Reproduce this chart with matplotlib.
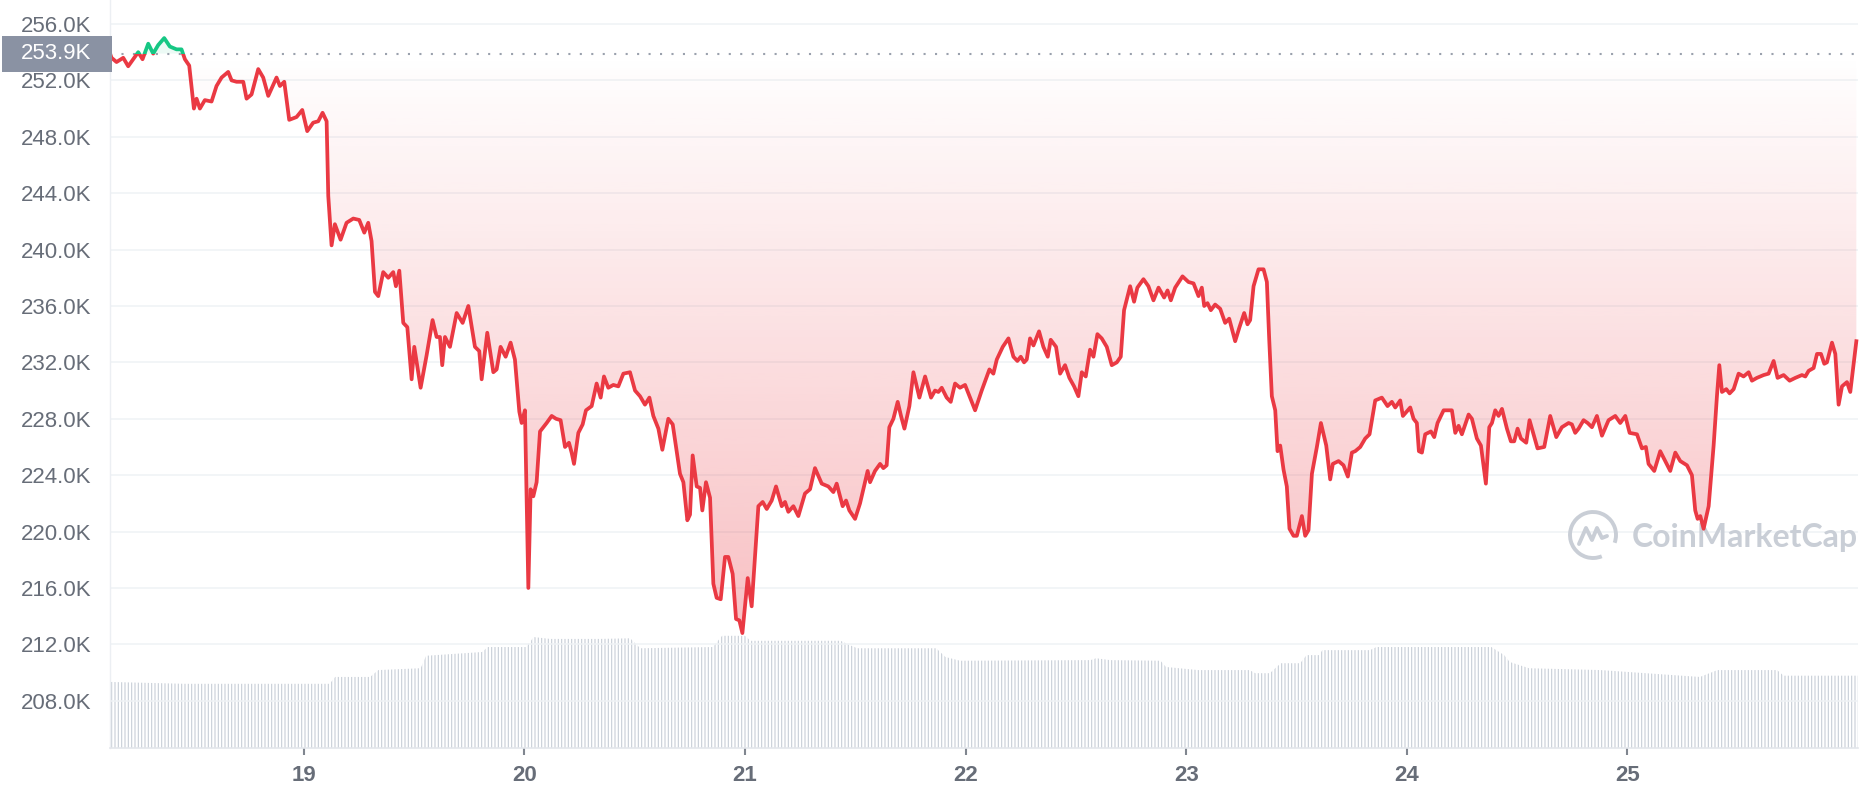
import numpy as np
import matplotlib.pyplot as plt
import matplotlib.transforms as mtransforms
from matplotlib.patches import Rectangle, Arc
from matplotlib.path import Path
from matplotlib.colors import to_rgb

# price in thousands, time in hours from the 18th 00:00
hours = [2.9, 3.07, 3.61, 4.34, 4.88, 5.42, 5.97, 6.44, 7.06, 7.60, 8.14, 8.80, 9.41, 10.14, 10.68,
         11.05, 11.52, 12.03, 12.32, 12.68, 13.22, 13.95, 14.49, 15.04, 15.76, 16.13, 16.67, 17.40,
         17.76, 18.30, 19.03, 19.57, 20.12, 21.02, 21.39, 21.86, 22.40, 23.20, 23.82, 24.36, 25.01,
         25.56, 26.03, 26.47, 26.65, 27.01, 27.37, 27.99, 28.64, 29.37, 30.02, 30.57, 31.00, 31.36,
         31.73, 32.09, 32.63, 33.18, 33.72, 34.01, 34.38, 34.81, 35.25, 35.72, 36.01, 36.70, 37.35,
         38.00, 38.44, 38.80, 39.05, 39.35, 39.89, 40.62, 41.27, 41.89, 42.61, 43.08, 43.34, 43.95,
         44.61, 44.97, 45.40, 45.95, 46.49, 46.96, 47.44, 47.69, 48.05, 48.42, 48.67, 48.96, 49.32,
         49.69, 50.41, 50.96, 51.43, 51.93, 52.41, 52.84, 53.13, 53.39, 53.86, 54.33, 54.69, 55.31,
         55.85, 56.29, 56.65, 57.12, 57.67, 58.21, 58.76, 59.48, 60.03, 60.57, 61.11, 61.59, 62.02,
         62.57, 63.00, 63.65, 64.13, 64.92, 65.29, 65.72, 66.01, 66.30, 66.74, 67.10, 67.35, 67.75,
         68.19, 68.55, 68.91, 69.35, 69.82, 70.18, 70.65, 71.02, 71.38, 71.71, 72.29, 72.72, 73.45,
         73.92, 74.36, 74.90, 75.37, 75.99, 76.35, 76.71, 77.26, 77.80, 78.52, 79.07, 79.61, 80.34,
         81.06, 81.61, 81.97, 82.62, 82.99, 83.35, 83.97, 84.51, 85.34, 85.60, 86.14, 86.69, 87.05,
         87.41, 87.70, 88.14, 88.61, 88.97, 89.34, 89.88, 90.32, 90.97, 91.59, 92.24, 92.67, 93.04,
         93.40, 93.94, 94.38, 94.85, 95.39, 95.94, 96.48, 97.03, 97.75, 98.59, 99.02, 99.39, 100.04,
         100.66, 101.20, 101.63, 102.00, 102.36, 102.65, 103.01, 103.38, 103.99, 104.46, 104.94,
         105.26, 105.84, 106.28, 106.82, 107.29, 107.80, 108.27, 108.64, 109.07, 109.54, 109.91,
         110.34, 110.81, 111.36, 111.90, 112.45, 112.88, 113.24, 113.90, 114.33, 114.69, 115.35,
         115.89, 116.44, 116.99, 117.60, 117.97, 118.33, 118.80, 119.60, 120.25, 120.80, 121.34,
         121.70, 121.96, 122.32, 122.68, 123.15, 123.70, 124.24, 124.68, 125.33, 125.80, 126.31,
         126.67, 126.96, 127.33, 127.87, 128.42, 128.78, 129.03, 129.32, 129.69, 129.94, 130.23,
         130.59, 130.95, 131.24, 131.68, 132.04, 132.59, 132.95, 133.31, 133.68, 134.22, 134.66,
         135.24, 135.67, 135.96, 136.58, 137.12, 137.59, 138.03, 138.39, 138.94, 139.48, 139.95,
         140.57, 141.29, 141.91, 142.38, 142.75, 143.29, 143.58, 144.38, 144.74, 145.10, 145.32,
         145.65, 146.01, 146.63, 146.99, 147.35, 148.01, 148.91, 149.28, 149.64, 150.00, 150.73,
         151.09, 151.63, 152.07, 152.61, 152.98, 153.27, 153.63, 153.99, 154.36, 154.90, 155.33,
         155.69, 156.06, 156.42, 157.00, 157.36, 157.80, 158.23, 158.96, 159.61, 160.27, 160.88,
         161.61, 161.97, 162.33, 162.70, 163.24, 163.68, 164.15, 164.69, 165.24, 165.96, 166.69,
         167.23, 167.78, 168.25, 169.05, 169.59, 170.02, 170.31, 170.93, 171.58, 172.13, 172.67,
         173.22, 173.76, 174.49, 175.03, 175.39, 175.65, 175.94, 176.30, 176.85, 177.39, 177.75,
         178.01, 178.30, 178.77, 179.13, 179.57, 180.11, 180.65, 181.20, 181.56, 182.10, 182.83,
         183.37, 183.92, 184.35, 185.01, 185.66, 186.28, 187.00, 187.37, 187.73, 188.27, 188.64,
         189.07, 189.43, 189.72, 190.27, 190.63, 190.99, 191.36, 191.90, 192.26, 192.92]
price_k = [253.9, 253.6, 253.3, 253.6, 253.0, 253.5, 254.0, 253.5, 254.6, 253.9, 254.5, 255.0, 254.4,
           254.2, 254.2, 253.5, 253.05, 250.0, 250.7, 250.0, 250.6, 250.5, 251.6, 252.2, 252.6,
           252.0, 251.9, 251.9, 250.7, 251.0, 252.8, 252.2, 250.9, 252.2, 251.6, 251.9, 249.2,
           249.4, 249.9, 248.4, 249.0, 249.1, 249.7, 249.1, 243.8, 240.3, 241.8, 240.7, 241.9,
           242.2, 242.1, 241.2, 241.9, 240.6, 237.0, 236.7, 238.4, 238.0, 238.4, 237.4, 238.5,
           234.8, 234.5, 230.8, 233.1, 230.2, 232.5, 235.0, 233.8, 233.8, 231.8, 233.8, 233.1,
           235.5, 234.8, 236.0, 233.1, 232.8, 230.8, 234.1, 231.3, 231.5, 233.1, 232.4, 233.4,
           232.2, 228.5, 227.7, 228.6, 216.0, 223.0, 222.5, 223.5, 227.1, 227.7, 228.2, 228.0,
           227.9, 226.0, 226.3, 225.6, 224.8, 227.0, 227.6, 228.6, 228.9, 230.5, 229.5, 231.0,
           230.2, 230.4, 230.3, 231.2, 231.3, 230.0, 229.6, 229.0, 229.5, 228.2, 227.3, 225.8,
           228.0, 227.6, 224.1, 223.5, 220.8, 221.2, 225.4, 223.2, 223.1, 221.5, 223.5, 222.4,
           216.3, 215.3, 215.2, 218.2, 218.2, 217.0, 213.8, 213.7, 212.8, 216.7, 214.7, 221.8,
           222.1, 221.6, 222.2, 223.2, 221.8, 222.1, 221.4, 221.8, 221.1, 222.7, 223.0, 224.5,
           223.4, 223.2, 222.8, 223.4, 221.8, 222.2, 221.5, 220.9, 222.0, 224.3, 223.5, 224.3,
           224.8, 224.5, 224.7, 227.4, 228.0, 229.2, 228.2, 227.3, 228.9, 231.3, 229.5, 231.0,
           229.5, 230.0, 229.9, 230.2, 229.5, 229.2, 230.5, 230.2, 230.4, 229.5, 228.6, 230.0,
           231.5, 231.2, 232.2, 233.1, 233.7, 232.4, 232.1, 232.4, 232.0, 232.2, 233.7, 233.2,
           234.2, 233.1, 232.4, 233.6, 233.1, 231.2, 231.8, 230.9, 230.3, 229.6, 231.3, 231.0,
           232.9, 232.4, 234.0, 233.7, 233.1, 231.8, 232.0, 232.4, 235.7, 237.4, 236.3, 237.3,
           237.9, 237.4, 236.4, 237.3, 236.6, 237.1, 236.4, 237.3, 238.1, 237.7, 237.6, 236.7,
           237.3, 236.0, 236.2, 235.7, 236.1, 235.8, 234.8, 235.1, 233.5, 234.5, 235.5, 234.7,
           235.0, 237.4, 238.6, 238.6, 237.7, 233.7, 229.6, 228.6, 225.7, 226.1, 224.4, 223.2,
           220.2, 219.7, 219.7, 221.1, 219.7, 220.1, 224.1, 226.0, 227.7, 226.1, 223.7, 224.8,
           225.0, 224.7, 223.9, 225.6, 225.7, 226.0, 226.6, 226.9, 229.3, 229.5, 228.9, 229.2,
           228.8, 229.3, 228.2, 228.8, 228.0, 227.7, 225.7, 225.6, 226.9, 227.1, 226.7, 227.7,
           228.6, 228.6, 227.0, 227.5, 226.9, 228.3, 228.0, 226.6, 226.1, 223.4, 227.4, 227.7,
           228.6, 228.2, 228.7, 227.3, 226.4, 226.4, 227.3, 226.6, 226.3, 227.9, 226.9, 225.9,
           226.0, 228.2, 226.7, 227.4, 227.7, 227.6, 227.0, 227.3, 227.9, 227.7, 227.4, 228.2,
           226.8, 227.9, 228.2, 227.7, 228.2, 227.0, 226.9, 225.9, 226.0, 224.8, 224.3, 225.7,
           225.0, 224.3, 225.6, 225.0, 224.7, 224.0, 221.5, 220.9, 221.1, 220.2, 221.8, 226.1,
           229.6, 231.8, 229.9, 230.1, 229.8, 230.1, 231.2, 231.0, 231.3, 230.7, 230.9, 231.1,
           231.2, 232.1, 230.9, 231.1, 230.7, 230.9, 231.1, 231.0, 231.4, 231.6, 232.6, 232.6,
           231.9, 232.0, 233.4, 232.6, 229.0, 230.3, 230.6, 229.9, 233.5]
open_price_k = 253.9

# rolling volume (arbitrary units)
vol_hours = [2.9, 11.0, 26.8, 27.4, 31.2, 32.1, 36.7, 37.3, 43.4, 44.0, 48.2, 49.0, 50.8, 56.2,
             59.5, 60.6, 68.5, 69.5, 72.0, 72.6, 82.4, 83.4, 84.2, 92.8, 93.8, 95.4, 109.6, 110.2,
             111.7, 117.2, 117.8, 121.3, 126.9, 127.5, 129.1, 130.3, 132.4, 133.1, 134.5, 134.8,
             140.0, 140.7, 153.2, 154.6, 155.2, 157.3, 165.1, 175.9, 177.8, 184.3, 185.0, 193.1]
vol = [10.6, 10.3, 10.3, 11.4, 11.4, 12.5, 12.8, 14.8, 15.4, 16.2, 16.2, 17.8, 17.5, 17.5, 17.6,
       16.0, 16.2, 18.0, 18.0, 17.2, 17.2, 16.5, 16.0, 16.0, 14.6, 14.0, 14.1, 14.4, 14.1, 14.0,
       13.0, 12.5, 12.5, 12.0, 12.0, 13.6, 13.6, 14.9, 14.9, 15.7, 15.7, 16.2, 16.2, 14.9, 13.8,
       12.8, 12.5, 11.4, 12.5, 12.5, 11.6, 11.6]

day_ticks = [24, 48, 72, 96, 120, 144, 168]
day_labels = ['19', '20', '21', '22', '23', '24', '25']
y_ticks = [208, 212, 216, 220, 224, 228, 232, 236, 240, 244, 248, 252, 256]

RED = '#ea3943'
GREEN = '#16c784'
LABEL = '#676d78'

plt.rcParams['font.family'] = ['Liberation Sans', 'DejaVu Sans']
plt.rcParams['hatch.linewidth'] = 0.8
plt.rcParams['hatch.color'] = '#c8ced7'

W, H = 1860, 800
fig = plt.figure(figsize=(18.6, 8), dpi=100)
rect = [110 / W, 52 / H, 1748 / W, 748 / H]
ax_vol = fig.add_axes(rect)
ax = fig.add_axes(rect, sharex=ax_vol)
ax.patch.set_visible(False)

# volume bars
ax_vol.fill_between(vol_hours, 0, vol, facecolor='none', edgecolor='#c8ced7',
                    hatch='|||||', linewidth=0)
ax_vol.set_ylim(0, 120)
ax_vol.axis('off')

h = np.array(hours)
p = np.array(price_k)

# gradient fill between open price and the line
below = ax.fill_between(h, p, open_price_k, where=p <= open_price_k, interpolate=True,
                        facecolor='none', edgecolor='none')
n = 256
grad = np.zeros((n, 1, 4))
grad[:, 0, :3] = to_rgb(RED)
grad[:, 0, 3] = np.linspace(0.32, 0.0, n)
im = ax.imshow(grad, extent=[h[0], h[-1], p.min(), open_price_k], origin='lower',
               aspect='auto', interpolation='bilinear', zorder=1)
im.set_clip_path(Path.make_compound_path(*below.get_paths()), ax.transData)

ax.fill_between(h, p, open_price_k, where=p >= open_price_k, interpolate=True,
                facecolor=GREEN, alpha=0.08, edgecolor='none', zorder=1)

# line: green above the open price, red below
line_r, = ax.plot(h, p, color=RED, lw=2.7, zorder=4, solid_joinstyle='round')
line_r.set_clip_path(Rectangle((h[0] - 5, 150), 300, open_price_k - 150,
                               transform=ax.transData))
line_g, = ax.plot(h, p, color=GREEN, lw=2.7, zorder=4, solid_joinstyle='round')
line_g.set_clip_path(Rectangle((h[0] - 5, open_price_k), 300, 100,
                               transform=ax.transData))

ax.axhline(open_price_k, color='#9aa1ad', lw=1.5, ls=(0, (1, 4.5)), zorder=2)

ax.set_xlim(2.9, 193.1)
ax.set_ylim(204.65, 257.7)

ax.set_yticks(y_ticks)
ax.set_yticklabels([f'{v:.1f}K' for v in y_ticks])
ax.yaxis.grid(True, color='#eff2f5', lw=1.1, zorder=0)
ax.set_axisbelow(True)
ax.tick_params(axis='y', length=0, pad=13.5, labelsize=16, labelcolor=LABEL)

ax.set_xticks(day_ticks)
ax.set_xticklabels(day_labels, fontweight='bold')
ax.tick_params(axis='x', length=5, width=1.5, color='#80868f', pad=7, labelsize=16,
               labelcolor=LABEL)

for s in ['top', 'right']:
    ax.spines[s].set_visible(False)
ax.spines['left'].set_color('#eceff3')
ax.spines['bottom'].set_color('#e3e6eb')
ax.spines['left'].set_linewidth(1.0)
ax.spines['bottom'].set_linewidth(1.2)

# current price label on the y axis
blend = mtransforms.blended_transform_factory(ax.transAxes, ax.transData)
box_h = 36 / 14.08
ax.add_patch(Rectangle((-108 / 1748, open_price_k - box_h / 2), 110 / 1748, box_h,
                       transform=blend, facecolor='#8a92a3', edgecolor='none',
                       clip_on=False, zorder=10))
ax.text(-19 / 1748, open_price_k, f'{open_price_k:.1f}K', transform=blend, ha='right',
        va='center', color='white', fontsize=16, zorder=11, clip_on=False)

# watermark
wm = '#c9ced6'
cx, cy = (1593 - 110) / 1748, (748 - 535) / 748
ax.add_patch(Arc((cx, cy), 46 / 1748, 46 / 748, theta1=320, theta2=640,
                 transform=ax.transAxes, color=wm, lw=2.8, zorder=3))
zx = [-14, -7, -1, 4, 9, 14]
zy = [-9, 7, -5, 7, -3, -1]
ax.plot([cx + d / 1748 for d in zx], [cy + d / 748 for d in zy], transform=ax.transAxes,
        color=wm, lw=2.8, solid_capstyle='round', solid_joinstyle='round', zorder=3)
ax.text((1632 - 110) / 1748, (748 - 538) / 748, 'CoinMarketCap', transform=ax.transAxes,
        ha='left', va='center', fontsize=23, fontweight='bold', color=wm,
        family=['Lato', 'DejaVu Sans'], zorder=3)

fig.savefig('out.png', dpi=100, facecolor='white')
